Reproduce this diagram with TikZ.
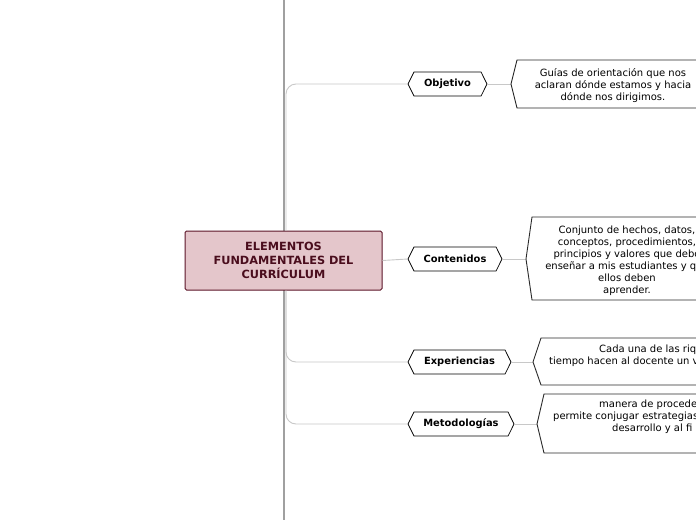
\documentclass[tikz,border=0pt]{standalone}
\usepackage{fontspec}
\setmainfont{DejaVu Sans}
\usetikzlibrary{shapes.symbols}
\definecolor{rootfill}{HTML}{E4C6CB}
\definecolor{rootdraw}{HTML}{5C1528}
\definecolor{roottext}{HTML}{4A0D1D}
\definecolor{trunkc}{HTML}{A0A0A0}
\definecolor{branchc}{HTML}{C8C8C8}
\definecolor{detailc}{HTML}{2A2A2A}
\tikzset{
  trunk/.style={draw=trunkc, line width=2.8pt},
  branch/.style={draw=branchc, line width=0.9pt, rounded corners=10pt},
  rootbox/.style={rectangle, fill=rootfill, draw=rootdraw, line width=1pt,
    rounded corners=1.5pt, text=roottext, font=\fontsize{11.3}{14}\selectfont\bfseries,
    align=center, inner sep=0pt},
  topic/.style={signal, signal to=east and west, signal pointer angle=127,
    draw=black, line width=0.7pt, fill=white, minimum height=24pt,
    font=\fontsize{9.9}{12}\selectfont\bfseries, inner xsep=2pt, inner ysep=0pt},
  detail/.style={draw=detailc, line width=0.9pt, fill=white},
  dtext/.style={font=\fontsize{10}{12}\selectfont, align=center, inner sep=0pt, yshift=-1.5pt},
  dline/.style={font=\fontsize{10}{12}\selectfont, inner sep=0pt, anchor=west},
}
\begin{document}
\begin{tikzpicture}[x=1pt,y=-1pt]
\useasboundingbox (0,0) rectangle (696,520);
\fill[white] (0,0) rectangle (696,520);
\coordinate (tx) at (286,0);
\coordinate (ttop) at (284,0);
\coordinate (tbot) at (284,520);
\draw[trunk] (ttop) -- (tbot);

% topics
\node[topic, minimum width=79pt] (obj) at (447.5,84) {Objetivo};
\node[topic, minimum width=94pt] (cont) at (455,259) {Contenidos};
\node[topic, minimum width=103pt] (exp) at (459.5,362) {Experiencias};
\node[topic, minimum width=106pt] (met) at (461,424) {Metodologías};

% root
\node[rootbox, minimum width=197pt, minimum height=59pt] (root) at (283.5,260.5)
  {ELEMENTOS\\FUNDAMENTALES DEL\\CURRÍCULUM};

% branches
\draw[branch] (root.north -| tx) |- (obj.west);
\draw[branch, rounded corners=0pt] (root.east) -- (cont.west);
\draw[branch] (root.south -| tx) |- (exp.west);
\draw[branch] (root.south -| tx) |- (met.west);

% detail boxes
\coordinate (dobj) at (511,84);
\coordinate (dcont) at (526,259);
\coordinate (dexp) at (533,362);
\coordinate (dmet) at (537,424);
\draw[branch, rounded corners=0pt] (obj.east) -- (dobj);
\draw[branch, rounded corners=0pt] (cont.east) -- (dcont);
\draw[branch, rounded corners=0pt] (exp.east) -- (dexp);
\draw[branch, rounded corners=0pt] (met.east) -- (dmet);

\draw[detail] (dobj) -- (517,60) -- (720,60) -- (720,108) -- (517,108) -- cycle;
\draw[detail] (dcont) -- (532,217) -- (740,217) -- (740,300) -- (532,300) -- cycle;
\draw[detail] (dexp) -- (541,338) -- (740,338) -- (740,385) -- (541,385) -- cycle;
\draw[detail] (dmet) -- (544,394) -- (740,394) -- (740,453) -- (544,453) -- cycle;

\node[dtext] (tobj) at (613,84) {Guías de orientación que nos\\aclaran dónde estamos y hacia\\dónde nos dirigimos.};
\node[dtext] (tcont) at (627,259) {Conjunto de hechos, datos,\\conceptos, procedimientos,\\principios y valores que debo\\enseñar a mis estudiantes y que\\ellos deben\\aprender.};
\node[dline] (texp1) at (599,350) {Cada una de las riq};
\node[dline] (texp2) at (549,362) {tiempo hacen al docente un v};
\node[dline] (tmet1) at (599,405) {manera de procede};
\node[dline] (tmet2) at (553,417) {permite conjugar estrategias};
\node[dline] (tmet3) at (612,429) {desarrollo y al fi};
\end{tikzpicture}
\end{document}
